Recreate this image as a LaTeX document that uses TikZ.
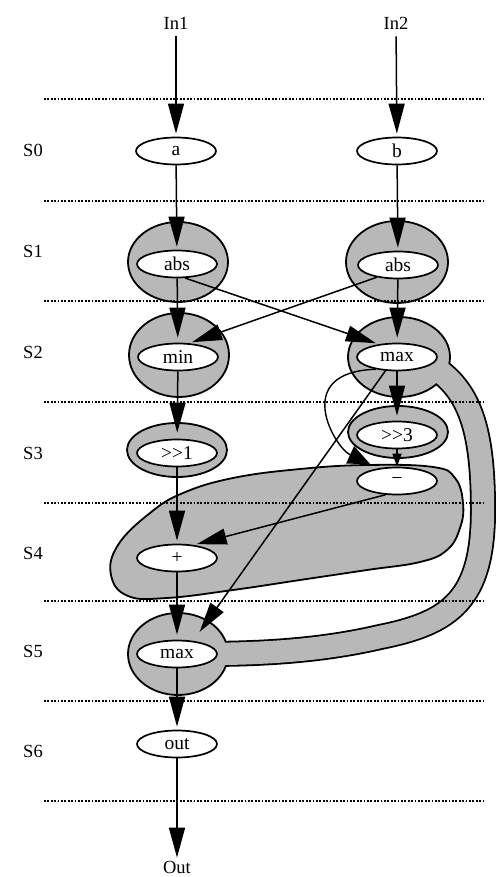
\documentclass[tikz,border=0pt]{standalone}
\usepackage{fontspec}
\setmainfont{Liberation Serif}
\usetikzlibrary{shapes.geometric,arrows.meta}
\pgfdeclarelayer{shade}
\pgfdeclarelayer{wires}
\pgfsetlayers{shade,wires,main}
\definecolor{stipple}{gray}{0.72}

\tikzset{
  op/.style={ellipse, draw, line width=1.7pt, fill=white, minimum width=80pt,
    minimum height=27pt, inner sep=0pt, font=\fontsize{19.5}{20}\selectfont},
  lbl/.style={font=\fontsize{18.5}{20}\selectfont, inner sep=1pt},
  wire/.style={line width=1.5pt, -{Triangle[length=30pt,width=16pt]}, shorten >=3pt},
  shortwire/.style={line width=1.5pt, -{Triangle[length=13pt,width=9pt]}},
  loopwire/.style={line width=1.4pt, -{Triangle[length=22pt,width=19pt]}, shorten >=10pt},
  stage/.style={line width=1.6pt, dash pattern=on 1.8pt off 1.6pt},
  ring/.style={fill=stipple, draw=black, line width=1.8pt},
}

\begin{document}
\begin{tikzpicture}[x=1pt,y=-1pt]
\useasboundingbox (0,0) rectangle (495,877);

% operation nodes
\node[op] (a)    at (176,151) {a};
\node[op] (b)    at (397,151) {b};
\node[op] (abs1) at (177,264) {abs};
\node[op] (abs2) at (398,265) {abs};
\node[op] (min)  at (178,357) {min};
\node[op] (max2) at (397,357) {max};
\node[op] (shr1) at (177,453) {>{}>1};
\node[op] (shr3) at (397,435) {>{}>3};
\node[op] (minus) at (397,481) {\char"2212};
\node[op] (plus) at (177,558) {+};
\node[op] (max5) at (177,654) {max};
\node[op] (out)  at (177,744) {out};

% ports and stage labels
\node[lbl] (in1) at (176,23) {In1};
\node[lbl] (in2) at (396,23) {In2};
\node[lbl] (outp) at (177,867) {Out};
\foreach \s/\y in {0/150,1/251,2/352,3/453,4/553,5/651,6/751}
  \node[lbl] (s\s) at (33,\y) {S\s};

% shaded resource regions and stage boundaries
\begin{pgfonlayer}{shade}
  % band joining the two max operators
  \draw[line width=26pt] (432,366) .. controls (470,390) and (483,430) .. (483,510)
    .. controls (483,600) and (450,623) .. (380,637) .. controls (320,651) and (260,654) .. (200,654);
  \path[ring] (178,262) ellipse [x radius=50, y radius=40];
  \path[ring] (397,262) ellipse [x radius=51, y radius=41];
  \path[ring] (179,355) ellipse [x radius=50, y radius=42];
  \path[ring] (399,357) ellipse [x radius=51, y radius=40];
  \path[ring] (177,450) ellipse [x radius=50, y radius=27];
  \path[ring] (398,432) ellipse [x radius=50, y radius=26];
  \path[ring] (178,654) ellipse [x radius=50, y radius=41];
  \draw[line width=22.4pt, stipple] (432,366) .. controls (470,390) and (483,430) .. (483,510)
    .. controls (483,600) and (450,623) .. (380,637) .. controls (320,651) and (260,654) .. (200,654);
  % region holding the subtract and add operators
  \path[ring] plot[smooth cycle, tension=0.7] coordinates {
    (433,467) (455,478) (463,503) (460,528) (447,550) (420,562) (367,570)
    (300,580) (233,590) (167,598) (128,596) (111,575) (118,545)
    (150,513) (183,493) (233,478) (300,469) (367,465)};
  \foreach \y in {99,201,301,402,503,601,701,801}
    \draw[stage] (44,\y) -- (485,\y);
\end{pgfonlayer}

% data flow
\begin{pgfonlayer}{wires}
  \draw[wire, shorten <=6pt] (in1) -- (a);
  \draw[wire, shorten <=6pt] (in2) -- (b);
  \draw[wire] (a) -- (abs1);
  \draw[wire] (b) -- (abs2);
  \draw[wire, shorten >=5pt] (abs1) -- (min);
  \draw[wire, shorten >=5pt] (abs2) -- (max2);
  \draw[wire] (abs1.-60) -- (max2.145);
  \draw[wire] (abs2.-150) -- (min.51);
  \draw[wire, shorten >=6pt] (min) -- (shr1);
  \draw[wire, shorten >=5pt] (max2) -- (shr3);
  \draw[shortwire] (shr3) -- (minus);
  \draw[loopwire] (max2.-150) .. controls (290,372) and (335,448) .. (minus.144);
  \draw[wire] (shr1) -- (plus);
  \draw[wire] (minus.-130) -- (plus.38);
  \draw[wire, shorten >=11pt] (max2.-130) -- (max5.39);
  \draw[wire, shorten >=5pt] (plus) -- (max5);
  \draw[wire] (max5) -- (out);
  \draw[wire, shorten >=2pt] (out) -- (outp);
\end{pgfonlayer}
\end{tikzpicture}
\end{document}
